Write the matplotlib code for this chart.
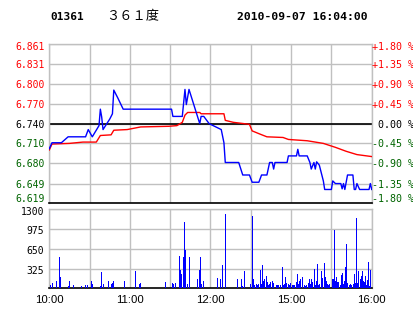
import matplotlib
matplotlib.use("Agg")
import matplotlib.pyplot as plt
from matplotlib.transforms import blended_transform_factory, offset_copy

# ---------------- data ----------------
base_price = 6.740
price_ticks = [6.619, 6.649, 6.680, 6.710, 6.740, 6.770, 6.800, 6.831, 6.861]
price_labels = ["6.619", "6.649", "6.680", "6.710", "6.740", "6.770", "6.800", "6.831", "6.861"]
pct_labels = ["-1.80 %", "-1.35 %", "-0.90 %", "-0.45 %", " 0.00 %",
              "+0.45 %", "+0.90 %", "+1.35 %", "+1.80 %"]
time_labels = ["10:00", "", "11:00", "", "12:00", "", "15:00", "", "16:00"]
vol_ticks = [325, 650, 975, 1300]
vol_labels = ["325", "650", "975", "1300"]

# price line (minute index, price)
price_t = [0, 2, 9, 14, 27, 29, 32, 37, 38, 39, 40, 45, 47, 48, 51, 55, 91, 92, 99,
           101, 102, 104, 112, 113, 115, 119, 128, 130, 131, 141, 144, 149, 151, 156,
           158, 162, 164, 166, 167, 168, 177, 178, 184, 185, 186, 192, 194, 195, 197,
           198, 199, 201, 202, 204, 205, 210, 211, 213, 217, 218, 219, 220, 222, 226,
           227, 228, 229, 231, 238, 239, 240]
price_v = [6.702, 6.711, 6.711, 6.720, 6.720, 6.731, 6.720, 6.737, 6.762, 6.750,
           6.731, 6.747, 6.755, 6.791, 6.779, 6.762, 6.762, 6.751, 6.751,
           6.792, 6.769, 6.792, 6.740, 6.751, 6.751, 6.740, 6.731, 6.711, 6.681,
           6.681, 6.662, 6.662, 6.651, 6.651, 6.662, 6.662, 6.681, 6.681, 6.671,
           6.681, 6.681, 6.691, 6.691, 6.701, 6.691, 6.691, 6.681, 6.671, 6.681,
           6.671, 6.682, 6.677, 6.669, 6.653, 6.640, 6.640, 6.653, 6.649, 6.649,
           6.641, 6.649, 6.640, 6.662, 6.662, 6.640, 6.640, 6.649, 6.640, 6.640,
           6.649, 6.640]

# average price line
avg_t = [0, 2, 15, 25, 35, 38, 46, 48, 58, 68, 89, 95, 99, 101, 103, 112, 113, 130,
         131, 137, 149, 151, 157, 162, 174, 178, 192, 204, 213, 221, 229, 240]
avg_v = [6.700, 6.709, 6.710, 6.712, 6.712, 6.722, 6.723, 6.730, 6.731, 6.735,
         6.736, 6.737, 6.742, 6.753, 6.757, 6.757, 6.755, 6.755, 6.745, 6.742,
         6.739, 6.729, 6.724, 6.720, 6.719, 6.716, 6.714, 6.710, 6.704, 6.698,
         6.693, 6.690]

# volume bars (minute index, volume)
vol_t = [0.7, 2.2, 5.2, 7.4, 8.2, 14.1, 14.9, 17.9, 23.8, 26.8,
         28.3, 31.3, 32.0, 38.0, 38.7, 40.2, 43.9, 46.2, 46.9, 47.6,
         55.8, 64.0, 67.0, 67.7, 86.4, 91.6, 92.3, 93.8, 96.8, 97.5,
         98.3, 99.8, 100.5, 101.2, 102.7, 104.2, 110.2, 111.7, 112.4, 113.2,
         114.6, 125.0, 127.3, 128.8, 131.0, 140.0, 143.0, 143.7, 145.2, 149.6,
         151.1, 151.9, 152.6, 154.1, 154.8, 155.6, 157.1, 157.8, 158.6, 159.3,
         160.1, 161.5, 162.3, 163.0, 163.8, 164.5, 166.0, 166.7, 168.9, 169.7,
         170.4, 171.9, 173.5, 174.2, 174.9, 175.7, 176.4, 177.9, 178.7, 179.4,
         180.9, 181.6, 182.4, 183.9, 184.6, 185.4, 186.1, 186.8, 188.3, 189.8,
         190.5, 191.3, 192.8, 193.6, 194.3, 195.0, 195.8, 197.3, 198.0, 198.8,
         199.5, 200.2, 201.0, 202.5, 203.2, 204.7, 205.4, 206.2, 206.9, 207.6,
         208.4, 210.7, 211.4, 212.2, 212.9, 213.6, 214.4, 215.1, 216.6, 217.4,
         218.1, 218.8, 219.6, 220.3, 221.1, 221.8, 223.3, 224.0, 224.8, 226.3,
         227.0, 227.7, 228.5, 229.2, 230.0, 231.5, 232.2, 233.0, 233.7, 234.4,
         235.2, 235.9, 236.7, 237.4, 238.2, 238.9]
vol_v = [55, 88, 121, 516, 187, 38, 121, 55, 38, 55,
         55, 121, 71, 38, 269, 71, 121, 71, 88, 121,
         121, 285, 71, 88, 104, 88, 71, 88, 532, 302,
         242, 516, 1093, 631, 71, 516, 154, 302, 516, 71,
         121, 170, 154, 384, 1224, 154, 154, 38, 285, 71,
         1191, 154, 55, 71, 55, 71, 302, 71, 384, 121,
         154, 203, 104, 55, 71, 104, 121, 88, 55, 55,
         55, 55, 351, 55, 71, 187, 88, 71, 55, 88,
         55, 55, 55, 104, 236, 71, 121, 154, 187, 55,
         38, 55, 88, 154, 71, 154, 104, 318, 55, 121,
         401, 55, 71, 285, 170, 417, 187, 121, 71, 55,
         71, 154, 154, 960, 121, 187, 104, 104, 55, 220,
         253, 71, 121, 351, 730, 88, 55, 71, 55, 71,
         236, 88, 1158, 88, 285, 154, 203, 285, 121, 104,
         203, 55, 137, 434, 38, 302]

# ---------------- figure ----------------
W, H = 414, 314
fig = plt.figure(figsize=(W / 100, H / 100), dpi=100)
fig.patch.set_facecolor("white")

RED = "#ff0000"
GREEN = "#006400"
GRID = "#c0c0c0"
MONO = "DejaVu Sans Mono"
TICK_FS = 7.0

ax = fig.add_axes([49.3 / W, 1 - 203.3 / H, 322.4 / W, (203.3 - 44) / H])
axv = fig.add_axes([49.3 / W, 1 - 288.3 / H, 322.4 / W, (288.3 - 209.3) / H])

# price panel
ax.plot(avg_t, avg_v, color=RED, lw=1.0, zorder=3)
ax.plot(price_t, price_v, color="#0000ff", lw=1.0, zorder=4)
ax.set_xlim(0, 240)
ax.set_ylim(price_ticks[0], price_ticks[-1])
ax.set_xticks(range(0, 241, 30))
ax.set_yticks(price_ticks)
ax.set_yticklabels([])
ax.set_xticklabels([])
ax.tick_params(length=0)
ax.grid(True, color=GRID, lw=1.0, zorder=0)
ax.set_axisbelow(True)
for s in ["top", "left", "right"]:
    ax.spines[s].set_color(GRID)
    ax.spines[s].set_linewidth(1.0)
ax.spines["bottom"].set_color("black")
ax.spines["bottom"].set_linewidth(1.2)
ax.axhline(base_price, color="black", lw=1.2, zorder=2)


def edge_shift(i, n):
    # end labels are pushed inward so they stay within the panel height
    if i == 0:
        return 4
    if i == n - 1:
        return -3
    return -1


tr = blended_transform_factory(ax.transAxes, ax.transData)
n = len(price_ticks)
for i, (v, s_left, s_right) in enumerate(zip(price_ticks, price_labels, pct_labels)):
    c = RED if v > base_price else (GREEN if v < base_price else "black")
    dy = edge_shift(i, n)
    ax.text(0.0, v, s_left, transform=offset_copy(tr, fig=fig, x=-5, y=dy, units="dots"),
            ha="right", va="center", family=MONO, fontsize=TICK_FS, color=c, clip_on=False)
    ax.text(1.0, v, s_right, transform=offset_copy(tr, fig=fig, x=0, y=dy, units="dots"),
            ha="left", va="center", family=MONO, fontsize=7.2, color=c, clip_on=False)

# volume panel
axv.bar(vol_t, vol_v, width=0.75, color="#0000ff", linewidth=0,
        antialiased=False, zorder=3)
axv.set_xlim(0, 240)
axv.set_ylim(0, 1300)
axv.set_xticks(range(0, 241, 30))
axv.set_xticklabels(time_labels, family="Liberation Sans", fontsize=8.2)
axv.set_yticks(vol_ticks)
axv.set_yticklabels([])
axv.tick_params(length=0)
axv.tick_params(axis="x", pad=5)
axv.grid(True, color=GRID, lw=1.0, zorder=0)
axv.set_axisbelow(True)
for s in ["top", "left", "right"]:
    axv.spines[s].set_color(GRID)
    axv.spines[s].set_linewidth(1.0)
axv.spines["bottom"].set_color("black")
axv.spines["bottom"].set_linewidth(1.2)

trv = blended_transform_factory(axv.transAxes, axv.transData)
for i, (v, s) in enumerate(zip(vol_ticks, vol_labels)):
    dy = -3 if i == len(vol_ticks) - 1 else -2
    axv.text(0.0, v, s, transform=offset_copy(trv, fig=fig, x=-5, y=dy, units="dots"),
             ha="right", va="center", family=MONO, fontsize=TICK_FS, color="black",
             clip_on=False)

# header
fig.text(50 / W, 1 - 16.5 / H, "01361", family=MONO, weight="bold",
         fontsize=8.0, va="center", ha="left")
fig.text(106 / W, 1 - 16.5 / H, "３６１度", family=["Noto Sans CJK SC", "DejaVu Sans"],
         fontsize=9.5, va="center", ha="left")
fig.text(237 / W, 1 - 16.5 / H, "2010-09-07 16:04:00", family=MONO, weight="bold",
         fontsize=8.2, va="center", ha="left")

fig.savefig("out.png", dpi=100, facecolor="white")
